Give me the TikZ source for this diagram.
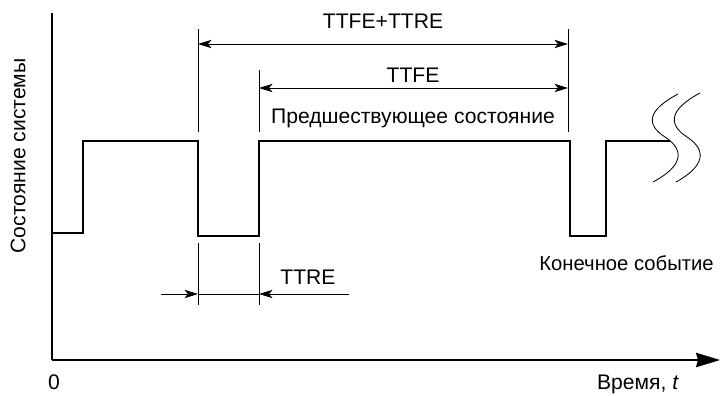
\documentclass[tikz,border=0pt]{standalone}
\usepackage{fontspec}
\setmainfont{Liberation Sans}
\usetikzlibrary{arrows.meta}

\begin{document}
\begin{tikzpicture}[x=0.025cm,y=-0.025cm,
    >={Stealth[length=3.4mm,width=2.1mm,inset=0.9mm]},
    axis/.style={line width=1.4pt},
    signal/.style={line width=1.1pt},
    tick/.style={line width=0.6pt},
    dim/.style={line width=0.6pt},
    txt/.style={inner sep=0pt,font=\fontsize{15}{17}\selectfont}]
  \useasboundingbox (0,0) rectangle (720,395);
  % axes
  \coordinate (o) at (52,360);
  \coordinate (ytop) at (52,13);
  \coordinate (xend) at (720,360);
  \draw[axis] (ytop)--(o);
  \draw[axis,-{Stealth[length=6mm,width=3.6mm,inset=0.5mm]}] (o)--(xend);
  % state of the system
  \coordinate (s0) at (52,233);
  \coordinate (up1) at (83,141);
  \coordinate (dn1) at (198,236);
  \coordinate (up2) at (259,141);
  \coordinate (dn2) at (570,236);
  \coordinate (up3) at (606,141);
  \coordinate (send) at (670,141);
  \draw[signal] (s0)-|(up1)-|(dn1)-|(up2)-|(dn2)-|(up3)--(send);
  % break
  \draw[tick] (678,94) .. controls (648,110) and (645,124) .. (665,137)
    .. controls (685,150) and (683,166) .. (653,182);
  \draw[tick] (700,93) .. controls (670,109) and (667,124) .. (687,137)
    .. controls (707,150) and (705,166) .. (676,182);
  % upper dimensions
  \coordinate (ta) at (198,29);  \coordinate (tb) at (198,132);
  \coordinate (tc) at (259,70);  \coordinate (td) at (259,132);
  \coordinate (te) at (568,29);  \coordinate (tf) at (568,132);
  \draw[tick] (ta)--(tb) (tc)--(td) (te)--(tf);
  \coordinate (all1) at (198,44); \coordinate (all2) at (568,44);
  \coordinate (fe1) at (259,88);  \coordinate (fe2) at (568,88);
  \draw[dim,<->] (all1)--(all2);
  \draw[dim,<->] (fe1)--(fe2);
  \node[txt] (sum) at (383,21) {TTFE+TTRE};
  \node[txt] (ttfe) at (413,75) {TTFE};
  \node[txt] (prev) at (413,118) {Предшествующее состояние};
  % lower dimension
  \coordinate (tg) at (198,243); \coordinate (th) at (198,305);
  \coordinate (ti) at (259,243); \coordinate (tj) at (259,305);
  \draw[tick] (tg)--(th) (ti)--(tj);
  \coordinate (re0) at (161,294); \coordinate (re1) at (198,294);
  \coordinate (re2) at (259,294); \coordinate (re3) at (349,294);
  \draw[dim,->] (re0)--(re1);
  \draw[dim] (re1)--(re2);
  \draw[dim,->] (re3)--(re2);
  \node[txt] (ttre) at (308,277) {TTRE};
  % labels
  \node[txt,anchor=east,font=\fontsize{14.4}{16}\selectfont] (final) at (714,263) {Конечное событие};
  \node[txt] (time) at (638,384) {Время, \textit{t}};
  \node[txt] (zero) at (54,382) {0};
  \node[txt,rotate=90] (state) at (18,156) {Состояние системы};
\end{tikzpicture}
\end{document}
